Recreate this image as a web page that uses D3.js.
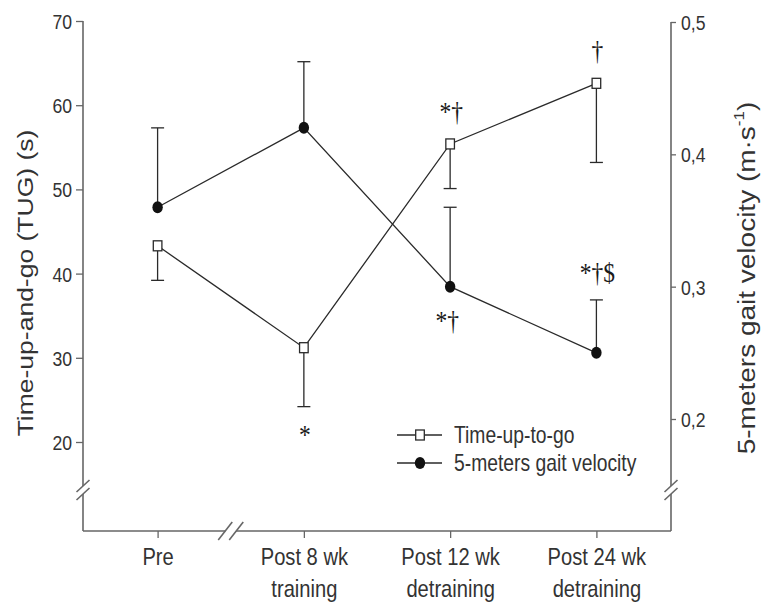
<!DOCTYPE html>
<html>
<head>
<meta charset="utf-8">
<script src="https://cdn.jsdelivr.net/npm/d3@7"></script>
<style>
  html, body { margin: 0; padding: 0; background: #fff; }
  svg { display: block; }
</style>
</head>
<body>
<div id="chart"></div>
<script>
// ─── DONNÉES ──────────────────────────────────────────────────────────────────
const categories = ["Pre", "Post 8 wk training", "Post 12 wk detraining", "Post 24 wk detraining"];
const categoryLines = [["Pre"], ["Post 8 wk", "training"], ["Post 12 wk", "detraining"], ["Post 24 wk", "detraining"]];

const tugMean = [43.3, 31.2, 55.4, 62.6];      // s
const tugSD   = [4.1, 7.0, 5.3, 9.4];          // barre vers le bas
const gaitMean = [0.36, 0.42, 0.30, 0.25];     // m·s-1
const gaitSD   = [0.06, 0.05, 0.06, 0.04];     // barre vers le haut

const tugTicks  = [20, 30, 40, 50, 60, 70];
const gaitTicks = [0.2, 0.3, 0.4, 0.5];

const annotations = [
    { cat: 1, series: "tug",  side: "below", text: "*" },
    { cat: 2, series: "tug",  side: "above", text: "*†" },
    { cat: 2, series: "gait", side: "below", text: "*†" },
    { cat: 3, series: "tug",  side: "above", text: "†" },
    { cat: 3, series: "gait", side: "above", text: "*†$" }
];

const legendItems = [
    { label: "Time-up-to-go", series: "tug" },
    { label: "5-meters gait velocity", series: "gait" }
];

// ─── MISE EN PAGE ─────────────────────────────────────────────────────────────
const W = 763, H = 603;
const axisLeftX = 83, axisRightX = 671, axisBottomY = 531;
const SQ = 0.84;                 // texte légèrement condensé
const sans = "'Liberation Sans', Arial, sans-serif";
const serif = "'Liberation Serif', 'Times New Roman', serif";
const axisColor = "#666";
const inkColor = "#2a2a2a";

const svg = d3.select("#chart").append("svg")
    .attr("width", W).attr("height", H);

const x = d3.scalePoint()
    .domain(categories)
    .range([axisLeftX, axisRightX])
    .padding(0.51);

const yL = d3.scaleLinear().domain([20, 70]).range([442, 21]);
const yR = d3.scaleLinear().domain([0.2, 0.5]).range([419, 22]);

const squash = (tx, ty, rot) => `translate(${tx},${ty}) scale(${SQ},1)` + (rot ? ` rotate(${rot})` : "");

// ─── AXES ─────────────────────────────────────────────────────────────────────
const gLeft = svg.append("g").attr("transform", `translate(${axisLeftX},0)`)
    .call(d3.axisLeft(yL).tickValues(tugTicks).tickSize(7).tickSizeOuter(0));
gLeft.select(".domain").remove();
gLeft.selectAll(".tick line").attr("stroke", axisColor).attr("stroke-width", 1.3);
gLeft.selectAll(".tick text")
    .attr("x", 0).attr("dy", null)
    .attr("transform", `translate(-11,0) scale(${SQ},1)`)
    .attr("dominant-baseline", "central")
    .style("font-family", sans).style("font-size", "21px").attr("fill", "#333");

const commaFmt = d => d3.format(".1f")(d).replace(".", ",");
const gRight = svg.append("g").attr("transform", `translate(${axisRightX},0)`)
    .call(d3.axisRight(yR).tickValues(gaitTicks).tickSize(5).tickSizeOuter(0).tickFormat(commaFmt));
gRight.select(".domain").remove();
gRight.selectAll(".tick line").attr("stroke", axisColor).attr("stroke-width", 1.3);
gRight.selectAll(".tick text")
    .attr("x", 0).attr("dy", null)
    .attr("transform", `translate(10,0) scale(${SQ},1)`)
    .attr("dominant-baseline", "central")
    .style("font-family", sans).style("font-size", "21px").attr("fill", "#333");

const gBottom = svg.append("g").attr("transform", `translate(0,${axisBottomY})`)
    .call(d3.axisBottom(x).tickSize(7).tickSizeOuter(0));
gBottom.select(".domain").remove();
gBottom.selectAll(".tick line").attr("stroke", axisColor).attr("stroke-width", 1.3);
gBottom.selectAll(".tick text").remove();
gBottom.selectAll(".tick").each(function (d, i) {
    const t = d3.select(this).append("text")
        .attr("transform", `scale(${SQ},1)`)
        .attr("text-anchor", "middle")
        .style("font-family", sans).style("font-size", "24px").attr("fill", "#333");
    categoryLines[i].forEach((line, k) => {
        t.append("tspan").attr("x", 0).attr("y", 34 + k * 32).text(line);
    });
});

// Lignes d'axes avec coupures "//"
const breakY = 490;
const breakX = (x(categories[0]) + x(categories[1])) / 2;
const gap = 4;
const spine = svg.append("g").attr("stroke", axisColor).attr("stroke-width", 1.6).attr("fill", "none");
[axisLeftX, axisRightX].forEach((ax, i) => {
    const top = i === 0 ? yL(70) : yR(0.5);
    spine.append("line").attr("x1", ax).attr("x2", ax).attr("y1", top).attr("y2", breakY - gap);
    spine.append("line").attr("x1", ax).attr("x2", ax).attr("y1", breakY + gap).attr("y2", axisBottomY);
    [-gap, gap].forEach(o => {
        spine.append("line")
            .attr("x1", ax - 6.5).attr("y1", breakY + o + 6)
            .attr("x2", ax + 6.5).attr("y2", breakY + o - 6);
    });
});
spine.append("line").attr("x1", axisLeftX).attr("x2", breakX - 5.5)
    .attr("y1", axisBottomY).attr("y2", axisBottomY);
spine.append("line").attr("x1", breakX + 5.5).attr("x2", axisRightX)
    .attr("y1", axisBottomY).attr("y2", axisBottomY);
[-5.5, 5.5].forEach(o => {
    spine.append("line")
        .attr("x1", breakX + o - 7).attr("y1", axisBottomY + 9)
        .attr("x2", breakX + o + 7).attr("y2", axisBottomY - 9);
});

// Titres d'axes
svg.append("text")
    .attr("transform", squash(25, 283, -90))
    .attr("text-anchor", "middle").attr("dominant-baseline", "central")
    .style("font-family", sans).style("font-size", "26.5px").attr("fill", "#333")
    .text("Time-up-and-go (TUG) (s)");

const rTitle = svg.append("text")
    .attr("transform", squash(747, 278, -90))
    .attr("text-anchor", "middle").attr("dominant-baseline", "central")
    .style("font-family", sans).style("font-size", "28px").attr("fill", "#333");
rTitle.append("tspan").text("5-meters gait velocity (m·s");
rTitle.append("tspan").attr("dy", -10).style("font-size", "17px").text("-1");
rTitle.append("tspan").attr("dy", 10).text(")");

// ─── SÉRIES ───────────────────────────────────────────────────────────────────
const series = {
    tug:  { mean: tugMean,  sd: tugSD,  y: yL, dir: -1 },
    gait: { mean: gaitMean, sd: gaitSD, y: yR, dir: 1 }
};

const plot = svg.append("g");

// Barres d'erreur
Object.values(series).forEach(s => {
    const eb = plot.append("g").attr("stroke", inkColor).attr("stroke-width", 1.3);
    categories.forEach((c, i) => {
        const cx = x(c);
        const y0 = s.y(s.mean[i]);
        const y1 = s.y(s.mean[i] + s.dir * s.sd[i]);
        eb.append("line").attr("x1", cx).attr("x2", cx).attr("y1", y0).attr("y2", y1);
        eb.append("line").attr("x1", cx - 6.5).attr("x2", cx + 6.5).attr("y1", y1).attr("y2", y1);
    });
});

// Lignes
Object.values(series).forEach(s => {
    const line = d3.line().x((d, i) => x(categories[i])).y(d => s.y(d));
    plot.append("path").datum(s.mean)
        .attr("d", line)
        .attr("fill", "none").attr("stroke", inkColor).attr("stroke-width", 1.3);
});

// Marqueurs
function drawMarker(g, kind, cx, cy) {
    if (kind === "tug") {
        g.append("rect")
            .attr("x", cx - 4.3).attr("y", cy - 5).attr("width", 8.6).attr("height", 10)
            .attr("fill", "#fff").attr("stroke", inkColor).attr("stroke-width", 1.3);
    } else {
        g.append("ellipse")
            .attr("cx", cx).attr("cy", cy).attr("rx", 5.2).attr("ry", 6)
            .attr("fill", "#111");
    }
}
categories.forEach((c, i) => {
    drawMarker(plot, "tug", x(c), yL(tugMean[i]));
    drawMarker(plot, "gait", x(c), yR(gaitMean[i]));
});

// Annotations statistiques
annotations.forEach(a => {
    const s = series[a.series];
    const cx = x(categories[a.cat]);
    const yMean = s.y(s.mean[a.cat]);
    const yBar = s.y(s.mean[a.cat] + s.dir * s.sd[a.cat]);
    let edge;
    if (a.side === "above") {
        edge = s.dir > 0 ? yBar : yMean - 5;
    } else {
        edge = s.dir < 0 ? yBar : yMean + 6;
    }
    const ty = a.side === "above" ? edge - 18 : edge + 37;
    svg.append("text")
        .attr("transform", squash(cx + (a.side === "below" && a.text.length > 1 ? -3 : 1), ty))
        .attr("text-anchor", "middle")
        .style("font-family", serif).style("font-size", "28px").attr("fill", "#1a1a1a")
        .text(a.text);
});

// ─── LÉGENDE ──────────────────────────────────────────────────────────────────
const legend = svg.append("g");
legendItems.forEach((it, i) => {
    const ly = 435 + i * 28;
    legend.append("line")
        .attr("x1", 397).attr("x2", 442).attr("y1", ly).attr("y2", ly)
        .attr("stroke", inkColor).attr("stroke-width", 1.3);
    drawMarker(legend, it.series, 420, ly);
    legend.append("text")
        .attr("transform", squash(454, ly))
        .attr("dominant-baseline", "central")
        .style("font-family", sans).style("font-size", "23px").attr("fill", "#333")
        .text(it.label);
});
</script>
</body>
</html>
